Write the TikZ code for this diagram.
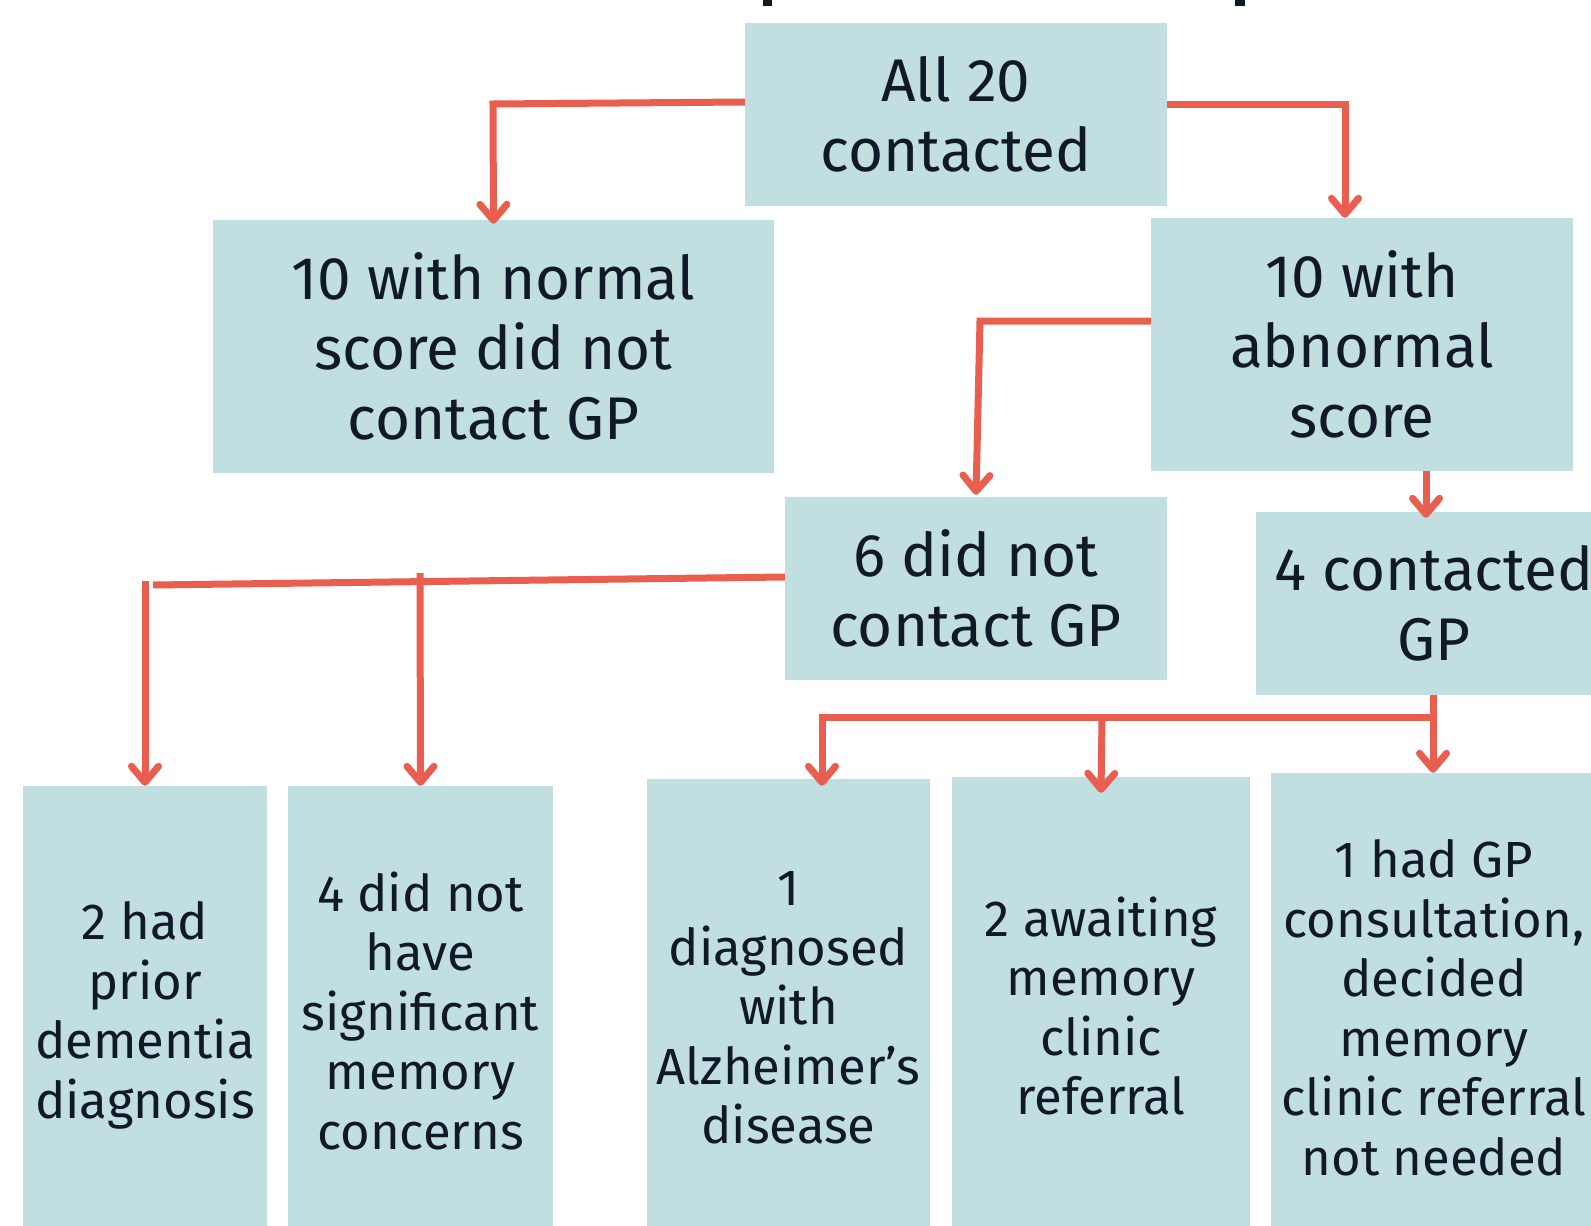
\documentclass[tikz,border=0pt]{standalone}
\usepackage{fontspec}
\setmainfont{Fira Sans}
\usetikzlibrary{arrows.meta,calc}
\definecolor{boxc}{HTML}{C1DFE1}
\definecolor{arrc}{HTML}{EA5E50}
\definecolor{txt}{HTML}{111827}
\begin{document}
\begin{tikzpicture}[x=1pt,y=-1pt,
 box/.style={fill=boxc, inner sep=0pt, align=center, text=txt, font=\fontsize{60.2}{70}\selectfont},
 sbox/.style={box, font=\fontsize{50.8}{59.5}\selectfont},
 conn/.style={draw=arrc, line width=7pt},
 arr/.style={conn, -{Straight Barb[length=16pt,width=27pt,round]}}]
\path[use as bounding box, clip] (0,0) rectangle (1591,1226);
% cut-off title remnants
\fill[txt] (763,0) rectangle (772,6);
\fill[txt] (1235,0) rectangle (1245,6);
% boxes
\node[box, minimum width=422pt, minimum height=183pt] (top) at (956,114.5) {All 20\\contacted};
\node[box, minimum width=561pt, minimum height=253pt] (L) at (493.5,346.5) {10 with normal\\score did not\\contact GP};
\node[box, minimum width=422pt, minimum height=253pt] (R) at (1362,344.5) {10 with\\abnormal\\score};
\node[box, minimum width=382pt, minimum height=183pt] (six) at (976,588.5) {6 did not\\contact GP};
\node[box, minimum width=356pt, minimum height=183pt] (four) at (1434,603.5) {4 contacted\\GP};
\node[sbox, minimum width=244pt, minimum height=448pt] (b1) at (145,1010) {2 had\\prior\\dementia\\dia\smash{g}nosis};
\node[sbox, minimum width=265pt, minimum height=449pt] (b2) at (420.5,1010.5) {4 did not\\have\\significant\\memory\\concerns};
\node[sbox, minimum width=283pt, minimum height=458pt] (b3) at (788.5,1008) {1\\diagnosed\\with\\Alzheimer’s\\disease};
\node[sbox, minimum width=298pt, minimum height=458pt] (b4) at (1101,1006) {2 awaiting\\memory\\clinic\\referral};
\node[sbox, minimum width=326pt, minimum height=469pt] (b5) at (1434,1007.5) {1 had GP\\consultation,\\decided\\memory\\clinic referral\\not needed};
% connectors
\coordinate (a1) at (493,104);
\draw[arr] (top.west |- 0,102) -- (a1) -- ($(L.north)+(0,4)$);
\draw[arr] (top.east |- 0,104) -| (R.north -| 1345,0);
\coordinate (a3) at (980,321);
\draw[arr] (R.west |- 0,321) -- (a3) -- ($(six.north)+(0,-2)$);
\draw[arr] (R.south -| 1426,0) -- ($(four.north -| 1426,0)+(0,6)$);
\coordinate (a5) at (153,585);
\draw[conn] (six.west |- 0,577) -- (a5);
\coordinate (j1) at (145,581);
\coordinate (j2) at (420,573);
\draw[arr] (j1) -- (b1.north);
\draw[arr] (j2) -- (b2.north);
\draw[arr] (four.south -| 1433,0) -- (b5.north -| 1433,0);
\coordinate (j3) at (1433,717);
\coordinate (j4) at (1102,717);
\draw[arr] (j3) -| ($(b3.north -| 822,0)+(0,7)$);
\draw[arr] (j4) -- ($(b4.north)+(0,16)$);
\end{tikzpicture}
\end{document}
